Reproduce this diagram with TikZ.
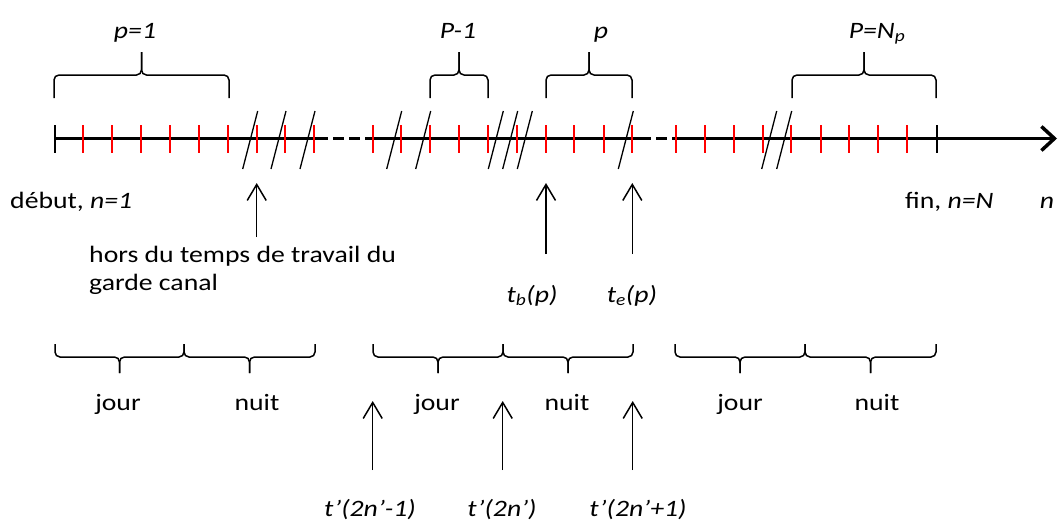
\documentclass[tikz,border=0pt]{standalone}
\usepackage{fontspec}
\setmainfont{Carlito}[FakeStretch=1.18]
\usetikzlibrary{arrows.meta}

% accolade : gauche, droite, bouts, barre, pointe
\newcommand{\accolade}[5]{%
  \draw[accolade] (#1,#3) -- (#1,#4) -- ({(#1+#2)/2},#4) -- ({(#1+#2)/2},#5);
  \draw[accolade] (#2,#3) -- (#2,#4) -- ({(#1+#2)/2},#4) -- ({(#1+#2)/2},#5);}

\begin{document}
\begin{tikzpicture}[x=1pt, y=-1pt,
    axe/.style={line width=3.5pt},
    graduation/.style={red, line width=2.2pt},
    borne/.style={line width=2pt},
    coupure/.style={line width=1.3pt},
    accolade/.style={line width=1.5pt, rounded corners=5pt},
    fleche/.style={line width=1.5pt, -{Straight Barb[length=16pt,width=19pt]}},
    every node/.style={inner sep=0pt, anchor=base, font=\fontsize{23.5}{28}\selectfont}]
    \useasboundingbox (0,0) rectangle (1060,530);

    % Axe du temps
    \draw[axe] (55,138.5) -- (317,138.5);
    \draw[axe, dash pattern=on 11pt off 5pt] (317,138.5) -- (365,138.5);
    \draw[axe] (365,138.5) -- (640,138.5);
    \draw[axe, dash pattern=on 11pt off 5pt] (640,138.5) -- (676,138.5);
    \draw[axe, -{Straight Barb[length=13pt,width=24pt]}] (676,138.5) -- (1057,138.5);

    % Pas de temps
    \foreach \x in {83.3,112.3,140.7,170.3,199,228.3,257,285.3,314.3,
                    372.7,401.3,429.7,459.3,487.7,517.3,545.7,574.3,604,632.3,
                    675.7,704.7,733.7,763,791,820.7,849,878,907}
        \draw[graduation] (\x,125) -- (\x,153);
    \draw[borne] (55,125) -- (55,153);
    \draw[borne] (937,125) -- (937,153);

    % Coupures
    \foreach \x in {257.7,286,315,401.7,430.7,503.3,517.7,532.3,633.3,776.7,791.7}
        \draw[coupure] (\x-15,169) -- (\x,111);

    % Periodes
    \accolade{54}{229}{98}{75}{52}
    \accolade{430}{488}{98}{75}{52}
    \accolade{546}{632}{98}{75}{52}
    \accolade{792}{936}{98}{75}{52}
    \node (p1) at (135,38) {\textit{p=1}};
    \node (pmoins) at (458,38) {\textit{P-1}};
    \node (p) at (601,38) {\textit{p}};
    \node (pN) at (877,38) {\textit{P=N\textsubscript{p}}};

    % Debut et fin
    \node[anchor=base west] (debut) at (10,208) {début, \textit{n=1}};
    \node[anchor=base west] (fin) at (905,208) {fin, \textit{n=N}};
    \node (n) at (1047,208) {\textit{n}};

    % Hors travail
    \node[anchor=base west, align=left] (hors) at (89,290) {hors du temps de travail du\\garde canal};
    \coordinate (horsbas) at (256.7,237);
    \coordinate (horshaut) at (256.7,183);
    \draw[fleche] (horsbas) -- (horshaut);

    % Debut et fin de la periode p
    \node (tb) at (532,302) {\textit{t\textsubscript{b}(p)}};
    \node (te) at (632,302) {\textit{t\textsubscript{e}(p)}};
    \coordinate (tbbas) at (546,254);
    \coordinate (tbhaut) at (546,183);
    \coordinate (tebas) at (632.3,254);
    \coordinate (tehaut) at (632.3,183);
    \draw[fleche] (tbbas) -- (tbhaut);
    \draw[fleche] (tebas) -- (tehaut);

    % Jours et nuits
    \accolade{55}{184}{344}{357}{373}
    \accolade{184}{315}{344}{357}{373}
    \accolade{373}{503}{344}{357}{373}
    \accolade{503}{633}{344}{357}{373}
    \accolade{675}{805}{344}{357}{373}
    \accolade{805}{936}{344}{357}{373}
    \node (jour1) at (118,410) {jour};
    \node (nuit1) at (257,410) {nuit};
    \node (jour2) at (437,410) {jour};
    \node (nuit2) at (567,410) {nuit};
    \node (jour3) at (740,410) {jour};
    \node (nuit3) at (877,410) {nuit};

    % Instants t'
    \foreach \x/\nom in {372.7/a,502.7/b,632.7/c} {
        \coordinate (\nom bas) at (\x,470);
        \coordinate (\nom haut) at (\x,401);
        \draw[fleche] (\nom bas) -- (\nom haut);
    }
    \node (ta) at (370,516) {\textit{t'(2n'-1)}};
    \node (tbb) at (502,516) {\textit{t'(2n')}};
    \node (tc) at (638,516) {\textit{t'(2n'+1)}};
\end{tikzpicture}
\end{document}
